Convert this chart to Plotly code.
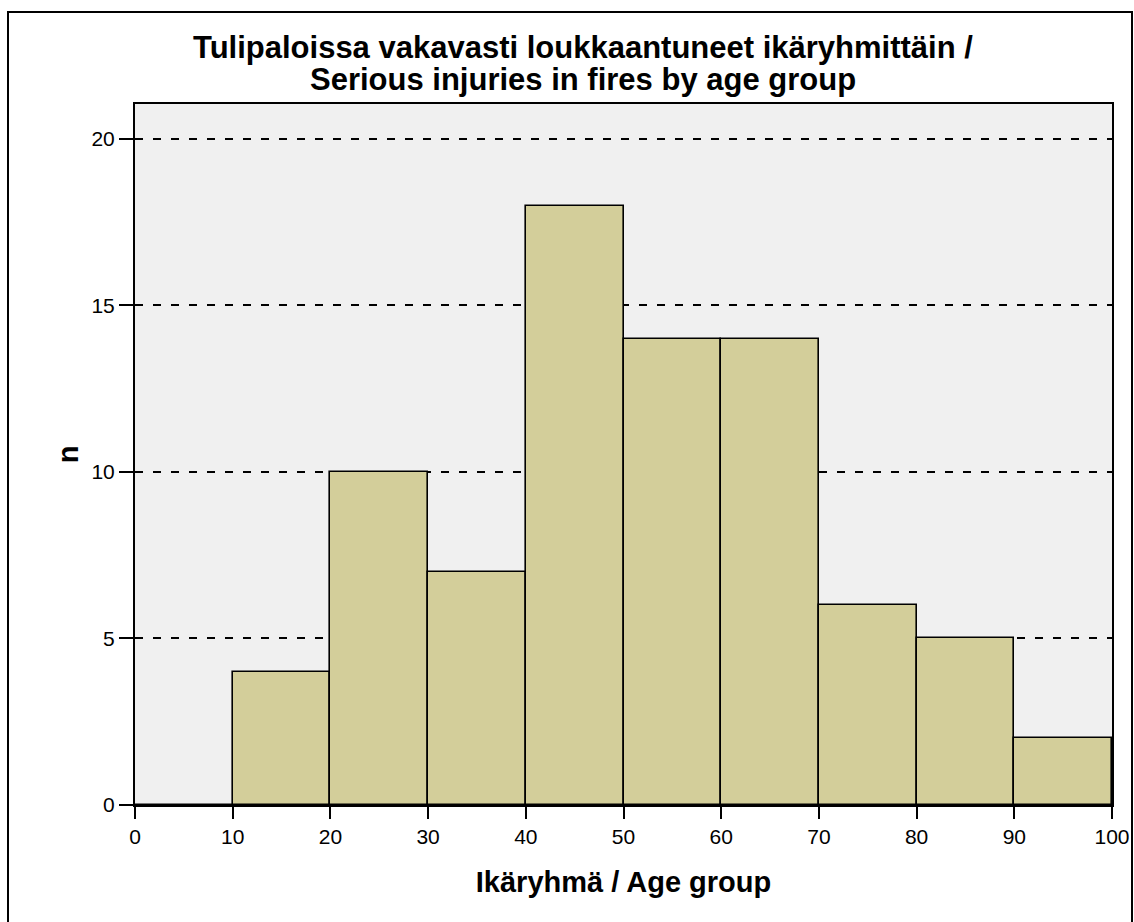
import plotly.graph_objects as go

bin_starts = [0, 10, 20, 30, 40, 50, 60, 70, 80, 90]
bin_width = 10
counts = [0, 4, 10, 7, 18, 14, 14, 6, 5, 2]
x_ticks = [0, 10, 20, 30, 40, 50, 60, 70, 80, 90, 100]
y_ticks = [0, 5, 10, 15, 20]

title_lines = ["Tulipaloissa vakavasti loukkaantuneet ikäryhmittäin /",
               "Serious injuries in fires by age group"]
x_title = "Ikäryhmä / Age group"
y_title = "n"

FONT = "Arial, Liberation Sans, Helvetica, sans-serif"

centers = [s + bin_width / 2 for s in bin_starts]

fig = go.Figure()
fig.add_trace(go.Bar(
    x=centers, y=counts, width=[bin_width] * len(counts),
    marker=dict(color="#D3CE9A", line=dict(color="black", width=1.6)),
    hoverinfo="x+y", showlegend=False,
))

W, H = 1134, 922
L, R, T, B = 135, 22, 104, 117
pw = W - L - R
ph = H - T - B

fig.update_layout(
    width=W, height=H,
    margin=dict(l=L, r=R, t=T, b=B, pad=0, autoexpand=False),
    paper_bgcolor="white",
    plot_bgcolor="#F0F0F0",
    bargap=0,
    font=dict(family=FONT, color="black"),
    xaxis=dict(
        range=[0, 100], tickvals=x_ticks, ticks="outside", ticklen=12, tickwidth=2,
        tickcolor="black", showline=True, linecolor="black", linewidth=2, mirror=True,
        showgrid=False, zeroline=False, tickfont=dict(size=21, family=FONT),
        automargin=False, ticklabeloverflow="allow",
        title=dict(text=x_title, font=dict(size=29, family=FONT, weight="bold"), standoff=24),
    ),
    yaxis=dict(
        range=[0, 21.05], tickvals=y_ticks, ticks="outside", ticklen=14, tickwidth=2,
        tickcolor="black", showline=True, linecolor="black", linewidth=2, mirror=True,
        showgrid=True, gridcolor="black", gridwidth=1.6, griddash="8px,10px",
        zeroline=False, tickfont=dict(size=21, family=FONT), automargin=False,
        title=dict(text=y_title, font=dict(size=29, family=FONT, weight="bold"), standoff=4),
    ),
)

for line, ypix in zip(title_lines, [48, 80]):
    fig.add_annotation(
        text=line, xref="paper", yref="paper",
        x=(583 - L) / pw, y=(H - B - ypix) / ph,
        xanchor="center", yanchor="middle", showarrow=False,
        font=dict(family=FONT, size=31, color="black", weight="bold"),
    )

fig.add_shape(
    type="rect", xref="paper", yref="paper",
    x0=(8 - L) / pw, x1=(1132 - L) / pw,
    y0=-(B + 20) / ph, y1=(H - B - 12) / ph,
    line=dict(color="black", width=2), fillcolor="rgba(0,0,0,0)", layer="below",
)

fig.write_html(
    "out.html",
    config={"displayModeBar": False},
    post_script=(
        "document.documentElement.style.margin='0';"
        "document.documentElement.style.padding='0';"
        "document.documentElement.style.overflow='hidden';"
        "document.body.style.margin='0';"
        "document.body.style.padding='0';"
        "document.body.style.overflow='hidden';"
    ),
)
